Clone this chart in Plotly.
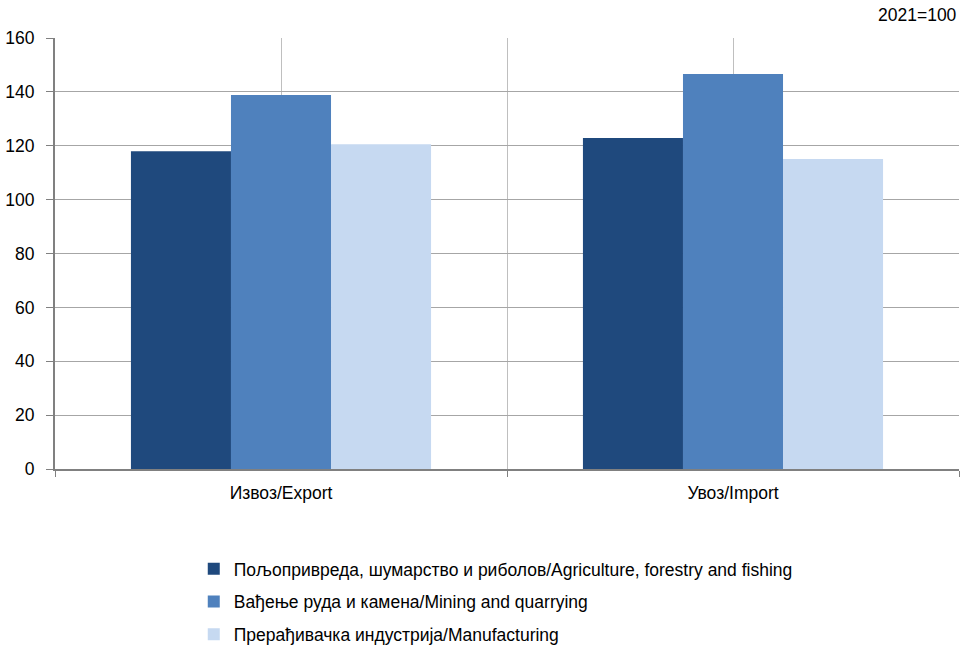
import plotly.graph_objects as go

categories = ["Извоз/Export", "Увоз/Import"]
series_names = [
    "Пољопривреда, шумарство и риболов/Agriculture, forestry and fishing",
    "Вађење руда и камена/Mining and quarrying",
    "Прерађивачка индустрија/Manufacturing",
]
agriculture = [118.0, 122.9]
mining = [138.8, 146.6]
manufacturing = [120.6, 115.1]
colors = ["#1F497D", "#4F81BD", "#C6D9F1"]
y_ticks = [0, 20, 40, 60, 80, 100, 120, 140, 160]

FONT = "Liberation Sans, Arial"
FS = 17.5
x_pos = list(range(len(categories)))

fig = go.Figure()
for name, vals, col in zip(series_names, [agriculture, mining, manufacturing], colors):
    fig.add_trace(go.Bar(x=x_pos, y=vals, name=name, marker=dict(color=col, line=dict(width=0)),
                         legendgroup=name))

fig.update_layout(
    width=962, height=648,
    margin=dict(l=55, r=3, t=38, b=179, autoexpand=False),
    paper_bgcolor="white", plot_bgcolor="white",
    barmode="group", bargap=0.336, bargroupgap=0,
    font=dict(family=FONT, size=FS, color="#000000"),
    showlegend=True,
    legend=dict(orientation="v", x=0.1535, xanchor="left", y=-0.19, yanchor="top",
                font=dict(family=FONT, size=FS), tracegroupgap=7, itemwidth=30,
                bgcolor="rgba(0,0,0,0)"),
    annotations=[dict(text="2021=100", xref="paper", yref="paper", x=1.0, y=1.0,
                      xanchor="right", yanchor="bottom", yshift=11, showarrow=False,
                      font=dict(family=FONT, size=FS))],
)
fig.update_xaxes(
    type="linear", range=[-0.5, len(categories) - 0.5],
    tickvals=x_pos, ticktext=categories, ticks="",
    showgrid=True, gridcolor="#BFBFBF", gridwidth=1,
    showline=True, linecolor="#808080", linewidth=2,
    mirror=False, zeroline=False, automargin=False, ticklabelstandoff=7,
    minor=dict(tickvals=[-0.5, 0.5, 1.5], ticks="outside", ticklen=6, tickcolor="#808080",
               showgrid=True, gridcolor="#BFBFBF", gridwidth=1),
    tickfont=dict(family=FONT, size=FS),
)
fig.update_yaxes(
    range=[0, 160], tickvals=y_ticks, ticks="outside", ticklen=7, tickcolor="#808080",
    showgrid=True, gridcolor="#A6A6A6", gridwidth=1,
    showline=True, linecolor="#808080", linewidth=2, zeroline=False,
    automargin=False, ticklabelstandoff=8,
    tickfont=dict(family=FONT, size=FS),
)
fig.write_html("out.html", config={"displayModeBar": False},
               post_script="document.body.style.margin='0';")
